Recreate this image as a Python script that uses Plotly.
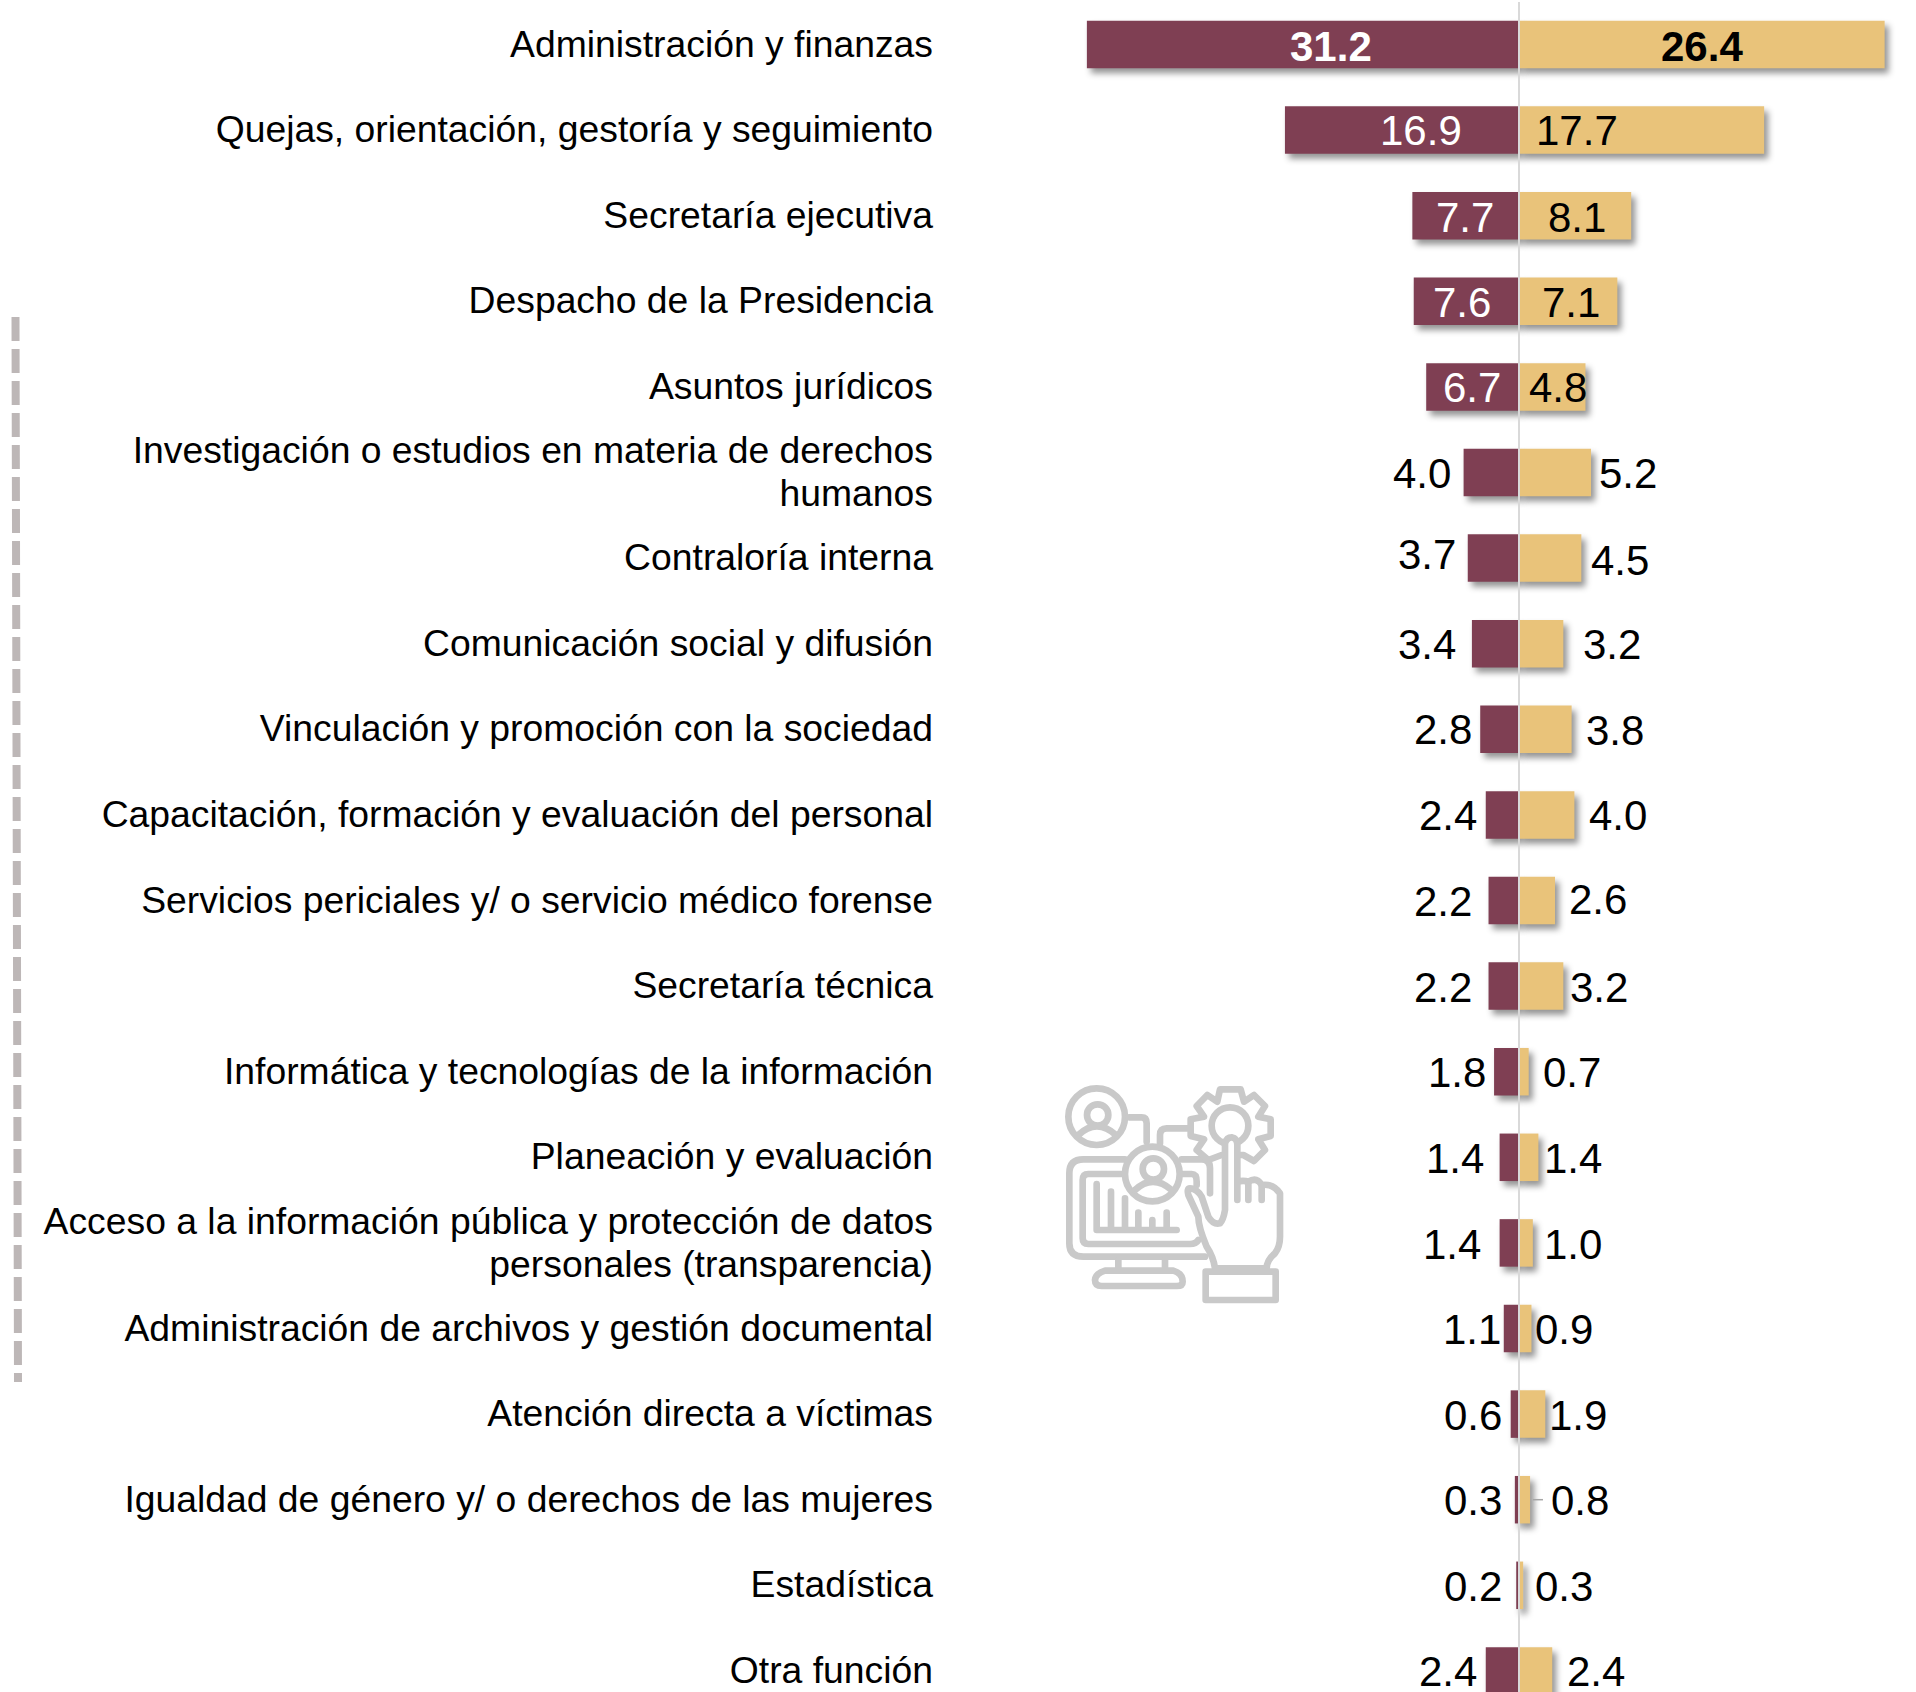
import base64
import plotly.graph_objects as go

categories = [
    "Administración y finanzas",
    "Quejas, orientación, gestoría y seguimiento",
    "Secretaría ejecutiva",
    "Despacho de la Presidencia",
    "Asuntos jurídicos",
    "Investigación o estudios en materia de derechos<br>humanos",
    "Contraloría interna",
    "Comunicación social y difusión",
    "Vinculación y promoción con la sociedad",
    "Capacitación, formación y evaluación del personal",
    "Servicios periciales y/ o servicio médico forense",
    "Secretaría técnica",
    "Informática y tecnologías de la información",
    "Planeación y evaluación",
    "Acceso a la información pública y protección de datos<br>personales (transparencia)",
    "Administración de archivos y gestión documental",
    "Atención directa a víctimas",
    "Igualdad de género y/ o derechos de las mujeres",
    "Estadística",
    "Otra función",
]
left_values = [31.2, 16.9, 7.7, 7.6, 6.7, 4.0, 3.7, 3.4, 2.8, 2.4, 2.2, 2.2, 1.8, 1.4, 1.4, 1.1, 0.6, 0.3, 0.2, 2.4]
right_values = [26.4, 17.7, 8.1, 7.1, 4.8, 5.2, 4.5, 3.2, 3.8, 4.0, 2.6, 3.2, 0.7, 1.4, 1.0, 0.9, 1.9, 0.8, 0.3, 2.4]

# label placement, in pixels from the end of each bar
left_dx = [244, 136, 53, 48, 46, -42, -41, -45, -37, -38, -46, -46, -37, -45, -48, -32, -38, -42, -43, -38]
right_dx = [-183, -187, -54, -46, -27, 37, 39, 49, 43, 44, 43, 36, 43, 35, 40, 33, 33, 50, 41, 44]
left_dy = [1, -1, 1, 0, 0, 0, -5, 0, -1, 0, 0, 0, 0, 0, 1, 0, 0, 0, 0, 0]
right_dy = [1, -1, 1, 0, 0, 0, 1, 0, 0, 0, -2, 0, 0, 0, 1, 0, 0, 0, 0, 0]

W, H = 1916, 1692
ZERO_X, PX_PER_UNIT = 1519, 13.85
PLOT_LEFT = 940
FIRST_ROW, ROW_STEP = 44.5, 85.6
MAROON, GOLD = "#7F3F53", "#E9C37A"
FONT = "Liberation Sans"
LABEL_SIZE = 42
CAT_SIZE = 37.3


def px(x):
    # pixel column to the plot-area fraction that "paper" references use
    return (x - PLOT_LEFT) / (W - PLOT_LEFT)


icon_svg = """<svg xmlns='http://www.w3.org/2000/svg' viewBox='0 0 900 780' width='900' height='780'>
<g fill='none' stroke='#c9c9c9' stroke-width='20' stroke-linecap='round' stroke-linejoin='round'>
<circle cx='200' cy='170' r='85'/><circle cx='203' cy='165' r='32'/>
<path d='M145 225 Q200 172 258 225'/>
<path d='M297 172 H335 Q350 172 350 190 V245'/>
<path d='M475 205 H410 Q390 205 390 225 V250'/>
<path d='M285 298 H160 Q118 298 118 340 V550 Q118 590 160 590 H525'/>
<path d='M455 298 H515 Q540 298 540 325 V400'/>
<path d='M285 342 H175 Q158 342 158 360 V535 Q158 552 175 552 H480 Q498 552 505 540'/>
<path d='M455 342 H485 Q500 342 500 365 V375'/>
<path d='M200 372 V510 H440 M243 395 V510 M285 415 V510 M325 458 V510 M367 480 V510 M410 458 V510'/>
<path d='M265 600 V625 M405 600 V625'/>
<path d='M225 632 H430 Q458 640 458 665 Q458 678 440 678 H215 Q195 678 195 660 Q197 640 225 632 Z'/>
<circle cx='367' cy='342' r='82' fill='white'/><circle cx='370' cy='327' r='32'/>
<path d='M315 390 Q368 340 425 390'/>
<path d='M570 88 H632 L642 125 L672 105 L705 138 L685 170 L722 178 V228 L685 238 L705 270 L672 303 L640 285 L575 285 L535 300 L500 270 L522 238 L482 228 V178 L522 170 L500 138 L532 105 L562 125 Z'/>
<circle cx='600' cy='197' r='55'/>
<path fill='white' d='M480 385 Q500 385 515 410 L535 470 Q550 495 570 490 Q580 480 585 450 V250 Q590 232 605 232 Q622 235 622 255 V365 Q640 360 655 365 Q680 350 695 375 Q730 370 750 400 V530 Q750 560 735 580 Q710 600 710 625 H555 Q550 590 530 560 Q505 500 505 470 L475 405 Q470 385 480 385 Z'/>
<path d='M622 365 V420 M655 365 V420 M695 375 V420'/>
<rect x='527' y='635' width='210' height='85'/>
</g></svg>"""
icon_uri = "data:image/svg+xml;base64," + base64.b64encode(icon_svg.encode()).decode()

fig = go.Figure()
fig.add_bar(y=categories, x=[-v for v in left_values], orientation="h", marker=dict(color=MAROON, line_width=0), hoverinfo="skip")
fig.add_bar(y=categories, x=right_values, orientation="h", marker=dict(color=GOLD, line_width=0), hoverinfo="skip")


def label(cat, x, value, dx, dy, color, bold):
    txt = f"{value:.1f}"
    fig.add_annotation(
        x=x, y=cat, xref="x", yref="y", text=f"<b>{txt}</b>" if bold else txt,
        showarrow=False, xanchor="center", yanchor="middle",
        xshift=dx, yshift=-dy - 1,
        font=dict(family=FONT, size=LABEL_SIZE, color=color),
    )


for i, cat in enumerate(categories):
    label(cat, -left_values[i], left_values[i], left_dx[i], left_dy[i], "#FFFFFF" if i < 5 else "#000000", i == 0)
    label(cat, right_values[i], right_values[i], right_dx[i], right_dy[i], "#000000", i == 0)

fig.update_layout(
    width=W, height=H, barmode="relative", bargap=0.445, showlegend=False,
    margin=dict(l=PLOT_LEFT, r=0, t=0, b=0),
    paper_bgcolor="white", plot_bgcolor="white",
    xaxis=dict(range=[(PLOT_LEFT - ZERO_X) / PX_PER_UNIT, (W - ZERO_X) / PX_PER_UNIT], visible=False, fixedrange=True),
    yaxis=dict(
        type="category", categoryorder="array", categoryarray=categories,
        range=[(H - FIRST_ROW) / ROW_STEP, -FIRST_ROW / ROW_STEP],
        showgrid=False, zeroline=False, showline=False, ticks="", ticklen=0, fixedrange=True,
        tickfont=dict(family=FONT, size=CAT_SIZE, color="#000000"), automargin=False, ticklabelstandoff=6,
    ),
    shapes=[
        dict(type="line", xref="x", yref="paper", x0=0, x1=0, y0=0, y1=1 - 2 / H, line=dict(color="#D9D9D9", width=2), layer="above"),
        dict(type="line", xref="x", yref="y", x0=1.0, x1=1.73, y0=categories[17], y1=categories[17], line=dict(color="#A6A6A6", width=1.5), layer="above"),
        dict(type="line", xref="paper", yref="paper", x0=px(15.5), x1=px(18), y0=1 - 317 / H, y1=1 - 1382 / H,
             line=dict(color="#BDB7B7", width=8, dash="24px,8px")),
    ],
    images=[dict(source=icon_uri, xref="paper", yref="paper", x=px(1030), y=1 - 1060 / H, sizex=300 / (W - PLOT_LEFT), sizey=260 / H,
                 xanchor="left", yanchor="top", sizing="stretch", layer="below")],
)

post = """
document.body.style.margin='0';
function touch(){
  document.querySelectorAll('.barlayer .point path').forEach(function(p){
    p.style.filter='drop-shadow(4px 5px 3px rgba(0,0,0,0.42))';});
  document.querySelectorAll('.ytick text').forEach(function(t){
    t.style.translate='0 -1px';
    var l=t.querySelectorAll('tspan.line');
    if(l.length==2){l[0].setAttribute('dy','3');l[1].setAttribute('dy','46');}
  });
}
touch();setTimeout(touch,50);
"""
fig.write_html("out.html", post_script=post, config=dict(displayModeBar=False, staticPlot=True))
